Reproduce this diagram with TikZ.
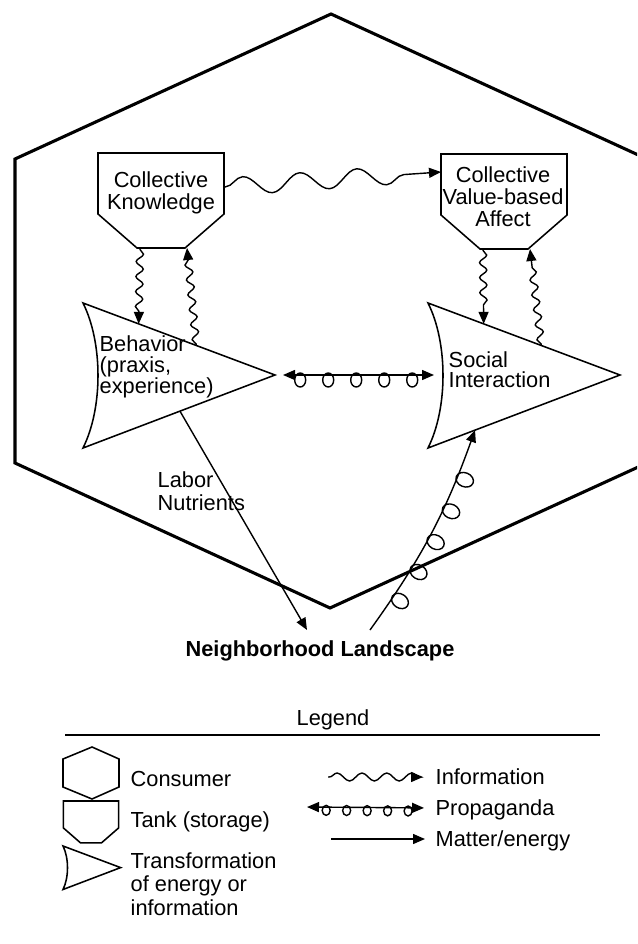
\documentclass[tikz,border=0pt]{standalone}
\usepackage{fontspec}
\setmainfont{Liberation Sans}
\usetikzlibrary{arrows.meta,decorations.pathmorphing,decorations.markings,calc}

\newcommand{\lblfont}[1]{\fontsize{15.5}{#1}\selectfont\lineskiplimit=-20pt}

\tikzset{
  txt/.style={inner sep=0pt, font=\lblfont{15.5}},
  one/.style={txt, text height=11pt, text depth=0pt},
  shapeline/.style={line width=1.1pt, line join=miter},
  consumer/.style={line width=2.2pt, line join=miter},
  info/.style 2 args={decorate, decoration={snake, amplitude=#1, segment length=#2, pre length=1pt, post length=0.3cm}},
  loop off/.store in=\loopoff, loop rx/.store in=\looprx, loop ry/.store in=\loopry,
  loop off=5, loop rx=5.5, loop ry=7,
  propa/.style={postaction={decorate, decoration={markings, mark=between positions #1 with {\draw[line width=1pt, -, shorten <=0pt, shorten >=0pt] (0,-\loopoff) ellipse [x radius=\looprx, y radius=\loopry];}}}},
  tankshape/.pic={
    \draw[shapeline] (-63,0) -- (63,0) -- (63,-61) -- (24,-95) -- (-24,-95) -- (-63,-61) -- cycle;
    \coordinate (-bl) at (-21,-95);
    \coordinate (-br) at (26,-95);
    \coordinate (-east) at (63,-34);
    \coordinate (-west) at (-63,-18);
  },
  transshape/.pic={
    \draw[shapeline] (0,0) -- (192,-72) -- (0,-145) .. controls (20,-105) and (20,-40) .. (0,0) -- cycle;
    \coordinate (-tl) at (0,0);
    \coordinate (-bl) at (0,-145);
    \coordinate (-tip) at (192,-72);
    \coordinate (-left) at (15,-72);
  },
}

\begin{document}
\begin{tikzpicture}[x=0.025cm, y=0.025cm, line width=1pt, >={Triangle[length=0.3cm,width=0.25cm]}]
  \clip (0,0) rectangle (637,-944);

  % Consumer
  \draw[consumer] (331,-14) -- (15,-159) -- (15,-463) -- (330,-608) -- (647,-463) -- (647,-159) -- cycle;

  % Tanks
  \pic (ktank) at (161,-153) {tankshape};
  \pic (atank) at (504,-154) {tankshape};
  \node[txt, align=center] (know) at (161,-192.5) {Collective\\Knowledge};
  \node[txt, align=center, font=\lblfont{15.6}] (affect) at (503,-197) {Collective\\Value-based\\Affect};

  % Transformations
  \pic (bsh) at (83,-303) {transshape};
  \pic (ssh) at (428,-303) {transshape};
  \node[txt, align=left, anchor=west, font=\lblfont{14.8}] (behav) at (99,-367) {Behavior\\(praxis,\\experience)};
  \node[txt, align=left, anchor=west, font=\lblfont{14.2}] (social) at (448,-370) {Social\\Interaction};

  % Landscape
  \node[one, font=\lblfont{15.5}\bfseries] (land) at (320,-648.5) {Neighborhood Landscape};
  \coordinate (landin) at (307,-630);
  \coordinate (landout) at (370,-630);
  \node[txt, align=left, anchor=west, font=\lblfont{16.6}] (labor) at (157,-491) {Labor\\Nutrients};

  % Edges
  \draw[info={0.225cm}{1.43cm}, ->] (ktank-east) -- (atank-west);
  \draw[info={0.09cm}{0.375cm}, ->] (ktank-bl) -- ($(bsh-tl)!0.29!(bsh-tip)$);
  \draw[info={0.09cm}{0.375cm}, ->] ($(bsh-tl)!0.59!(bsh-tip)$) -- (ktank-br);
  \draw[info={0.09cm}{0.375cm}, ->] (atank-bl) -- ($(ssh-tl)!0.29!(ssh-tip)$);
  \draw[info={0.09cm}{0.375cm}, ->] ($(ssh-tl)!0.59!(ssh-tip)$) -- (atank-br);
  \draw[<->, propa={0.15 and 0.85 step 0.1667}, shorten <=0.2cm, shorten >=0.225cm] (bsh-tip) -- (ssh-left);
  \draw[->] ($(bsh-bl)!0.505!(bsh-tip)$) -- (landin);
  \draw[->, loop off=8, loop rx=7, loop ry=9, propa={0.18 and 0.79 step 0.15}] (landout) to[bend right=8] ($(ssh-bl)!0.245!(ssh-tip)$);

  % Legend
  \node[one] (legend) at (333,-718) {Legend};
  \draw[line width=1.2pt] (65,-735) -- (600,-735);
  \draw[shapeline] (92,-747) -- (63,-759) -- (63,-787) -- (92,-799) -- (119,-787) -- (119,-759) -- cycle;
  \pic[scale=0.44] (ltank) at (91,-801) {tankshape};
  \pic[scale=0.3] (ltrans) at (63,-846) {transshape};
  \node[one, anchor=west] (cons) at (130,-779) {Consumer};
  \node[one, anchor=west] (tank) at (130,-820) {Tank (storage)};
  \node[txt, align=left, anchor=west, font=\lblfont{16.6}] (transf) at (130,-884) {Transformation\\of energy or\\information};
  \node[one, anchor=west] (infol) at (435,-777) {Information};
  \node[one, anchor=west] (propl) at (435,-808) {Propaganda};
  \node[one, anchor=west] (matl) at (435,-839) {Matter/energy};
  \coordinate (infos) at (328,-777);
  \coordinate (props) at (307,-807);
  \coordinate (mats) at (331,-839);
  \draw[info={0.1cm}{0.62cm}, ->, shorten >=0.3cm] (infos) -- (infol.west);
  \draw[<->, loop off=3.2, loop rx=4, loop ry=5, propa={0.15 and 0.82 step 0.16}, shorten >=0.275cm] (props) -- (propl.west);
  \draw[->, shorten >=0.25cm] (mats) -- (matl.west);
\end{tikzpicture}
\end{document}
